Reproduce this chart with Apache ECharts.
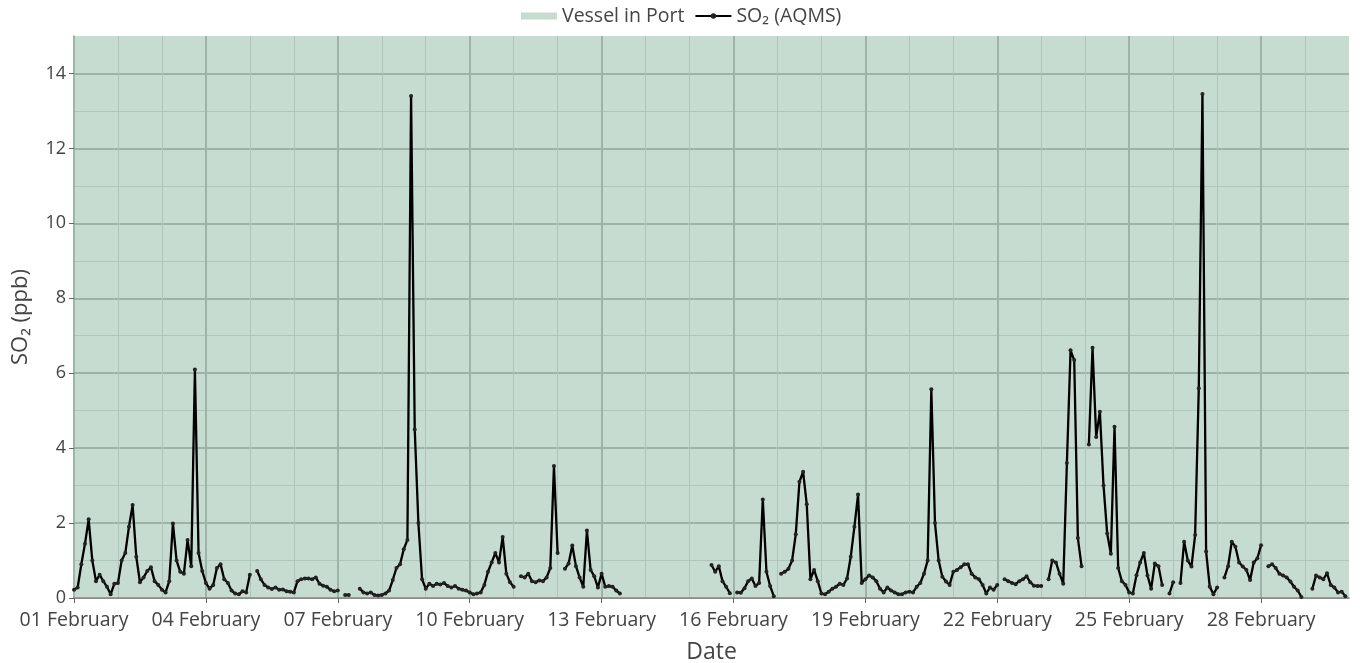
<!DOCTYPE html>
<html>
<head>
<meta charset="utf-8">
<title>SO2 AQMS</title>
<script src="https://cdn.jsdelivr.net/npm/echarts@6/dist/echarts.min.js"></script>
<style>
  html, body { margin: 0; padding: 0; background: #fff; }
  #chart { width: 1360px; height: 663px; }
</style>
</head>
<body>
<div id="chart"></div>
<script>
// hours since 01 February 00:00, one reading every 2 hours
const stepHours = 2
const axisMaxHours = 696
const tickHours = 72
const monthName = 'February'

// SO2 (ppb), 12 readings per day, null = no data
const so2 = [
  0.22, 0.28, 0.9, 1.45, 2.1, 1.0, 0.45, 0.62, 0.45, 0.3, 0.1, 0.38,
  0.4, 1.0, 1.2, 1.9, 2.48, 1.1, 0.42, 0.55, 0.72, 0.82, 0.45, 0.35,
  0.22, 0.15, 0.45, 1.99, 1.0, 0.7, 0.65, 1.55, 0.85, 6.1, 1.2, 0.72,
  0.4, 0.25, 0.35, 0.8, 0.9, 0.5, 0.4, 0.2, 0.12, 0.1, 0.18, 0.15,
  0.62, null, 0.72, 0.5, 0.35, 0.28, 0.24, 0.28, 0.22, 0.23, 0.18, 0.17,
  0.15, 0.45, 0.5, 0.52, 0.52, 0.5, 0.55, 0.38, 0.33, 0.3, 0.22, 0.18,
  0.2, null, 0.08, 0.08, null, null, 0.25, 0.15, 0.12, 0.15, 0.08, 0.07,
  0.08, 0.12, 0.2, 0.48, 0.8, 0.9, 1.3, 1.55, 13.4, 4.5, 2.0, 0.5,
  0.25, 0.38, 0.32, 0.38, 0.36, 0.4, 0.32, 0.28, 0.32, 0.25, 0.22, 0.2,
  0.15, 0.1, 0.12, 0.15, 0.35, 0.7, 0.95, 1.2, 0.95, 1.63, 0.65, 0.42,
  0.3, null, 0.58, 0.55, 0.65, 0.45, 0.42, 0.47, 0.45, 0.55, 0.8, 3.52,
  1.2, null, 0.78, 0.92, 1.4, 0.85, 0.55, 0.3, 1.8, 0.75, 0.58, 0.28,
  0.65, 0.3, 0.32, 0.3, 0.2, 0.12, null, null, null, null, null, null,
  null, null, null, null, null, null, null, null, null, null, null, null,
  null, null, null, null, null, null, 0.88, 0.7, 0.85, 0.45, 0.3, 0.13,
  null, 0.15, 0.14, 0.26, 0.45, 0.52, 0.32, 0.4, 2.63, 0.7, 0.32, 0.05,
  null, 0.65, 0.7, 0.78, 1.0, 1.7, 3.1, 3.37, 2.5, 0.5, 0.75, 0.45,
  0.12, 0.1, 0.17, 0.25, 0.3, 0.38, 0.35, 0.52, 1.1, 1.9, 2.76, 0.4,
  0.5, 0.6, 0.55, 0.45, 0.25, 0.15, 0.28, 0.2, 0.15, 0.1, 0.1, 0.15,
  0.17, 0.15, 0.3, 0.4, 0.65, 1.0, 5.57, 2.0, 1.0, 0.57, 0.44, 0.35,
  0.7, 0.75, 0.82, 0.9, 0.9, 0.65, 0.55, 0.5, 0.35, 0.12, 0.28, 0.22,
  0.35, null, 0.5, 0.45, 0.4, 0.37, 0.45, 0.5, 0.58, 0.42, 0.33, 0.32,
  0.32, null, 0.5, 1.0, 0.95, 0.65, 0.38, 3.6, 6.61, 6.35, 1.6, 0.85,
  null, 4.1, 6.68, 4.3, 4.97, 3.0, 1.72, 1.18, 4.57, 0.8, 0.45, 0.35,
  0.15, 0.12, 0.61, 0.95, 1.2, 0.6, 0.25, 0.92, 0.85, 0.35, null, 0.12,
  0.42, null, 0.4, 1.5, 1.0, 0.84, 1.68, 5.6, 13.45, 1.24, 0.3, 0.1,
  0.28, null, 0.55, 0.85, 1.5, 1.37, 0.95, 0.84, 0.75, 0.48, 0.95, 1.06,
  1.41, null, 0.85, 0.9, 0.8, 0.65, 0.6, 0.55, 0.44, 0.3, 0.2, 0.03,
  null, null, 0.25, 0.6, 0.55, 0.5, 0.66, 0.35, 0.28, 0.15, 0.17, 0.05
]

// vessel in port for the whole period: [start hour, end hour]
const vesselInPort = [0, 696]
const vesselTop = 15

const chart = echarts.init(document.getElementById('chart'))

const so2Points = so2.map((v, i) => [i * stepHours, v])
const vesselPoints = vesselInPort.map(h => [h, vesselTop])

const fontFamily = '"Open Sans", "DejaVu Sans", sans-serif'
const textColor = '#444'
const vesselColor = 'rgba(141,185,161,0.5)'

const dayLabel = v => {
  if (v % tickHours !== 0) return ''
  const day = v / 24 + 1
  return (day < 10 ? '0' + day : '' + day) + ' ' + monthName
}

const option = {
  animation: false,
  textStyle: { fontFamily: fontFamily },
  legend: {
    left: 521,
    top: 6,
    padding: 0,
    itemWidth: 36,
    itemHeight: 7,
    itemGap: 10,
    textStyle: { fontSize: 19.5, color: textColor, fontFamily: fontFamily },
    data: [
      { name: 'Vessel in Port', icon: 'rect' },
      { name: 'SO₂ (AQMS)' }
    ]
  },
  grid: {
    left: 74,
    right: 11,
    top: 36,
    bottom: 65,
    outerBoundsMode: 'none'
  },
  xAxis: {
    type: 'value',
    min: 0,
    max: axisMaxHours,
    interval: tickHours,
    name: 'Date',
    nameLocation: 'middle',
    nameGap: 43,
    nameTextStyle: { fontSize: 23, color: textColor },
    axisLine: { show: true, lineStyle: { color: '#666', width: 1.5 } },
    axisTick: { show: true, length: 5, lineStyle: { color: '#666' } },
    axisLabel: {
      formatter: dayLabel,
      showMaxLabel: false,
      margin: 12,
      fontSize: 19.5,
      color: textColor
    },
    splitLine: { show: true, showMinLine: false, showMaxLine: false, lineStyle: { color: '#adadad', width: 2 } },
    minorTick: { show: false, splitNumber: 3 },
    minorSplitLine: { show: true, lineStyle: { color: '#d0d0d0', width: 1 } }
  },
  yAxis: {
    type: 'value',
    min: 0,
    max: 15,
    interval: 2,
    name: 'SO₂ (ppb)',
    nameLocation: 'middle',
    nameGap: 42,
    nameTextStyle: { fontSize: 22, color: textColor },
    axisLine: { show: true, lineStyle: { color: '#8a9a90', width: 1.5 } },
    axisTick: { show: true, length: 5, lineStyle: { color: '#666' } },
    axisLabel: { showMaxLabel: false, margin: 8, fontSize: 18, color: textColor },
    splitLine: { show: true, showMinLine: false, showMaxLine: false, lineStyle: { color: '#adadad', width: 2 } },
    minorTick: { show: false, splitNumber: 2 },
    minorSplitLine: { show: true, lineStyle: { color: '#d0d0d0', width: 1 } }
  },
  series: [
    {
      name: 'Vessel in Port',
      type: 'line',
      data: vesselPoints,
      showSymbol: false,
      color: vesselColor,
      lineStyle: { width: 0 },
      areaStyle: { color: vesselColor, opacity: 1, origin: 'start' },
      silent: true,
      z: 1
    },
    {
      name: 'SO₂ (AQMS)',
      type: 'line',
      data: so2Points,
      color: '#000',
      symbol: 'circle',
      symbolSize: 4,
      showSymbol: true,
      connectNulls: false,
      lineStyle: { width: 2.3, color: '#000' },
      itemStyle: { color: '#222' },
      z: 3
    }
  ]
}

chart.setOption(option)

window.addEventListener('resize', () => chart.resize())
</script>
</body>
</html>
